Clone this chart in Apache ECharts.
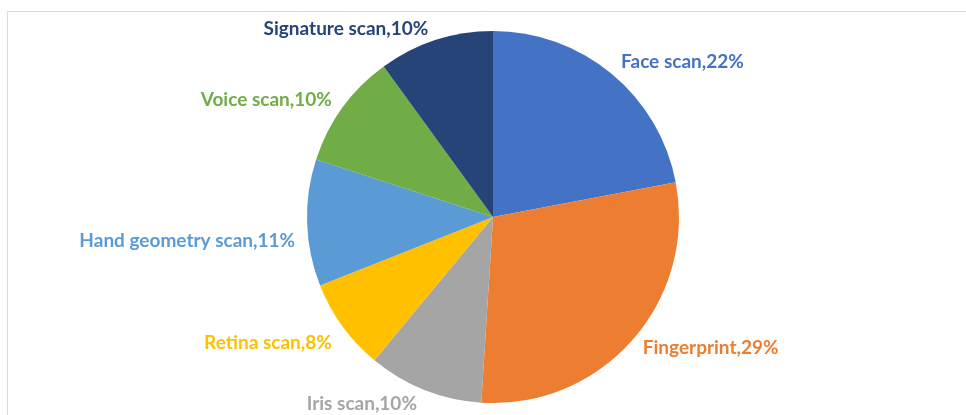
<!DOCTYPE html>
<html>
<head>
<meta charset="utf-8">
<style>
  html, body { margin: 0; padding: 0; background: #fff; }
  #chart { width: 966px; height: 415px; }
</style>
<script src="https://cdn.jsdelivr.net/npm/echarts@6/dist/echarts.min.js"></script>
</head>
<body>
<div id="chart"></div>
<script>
// Share of biometric authentication methods (percent)
const categories = ['Face scan', 'Fingerprint', 'Iris scan', 'Retina scan', 'Hand geometry scan', 'Voice scan', 'Signature scan'];
const shares = [22, 29, 10, 8, 11, 10, 10];
const colors = ['#4472C4', '#ED7D31', '#A5A5A5', '#FFC000', '#5B9BD5', '#70AD47', '#264478'];

const chart = echarts.init(document.getElementById('chart'), null, { renderer: 'canvas' });

// small vertical nudges so labels sit where outside-end labels usually land
const labelNudge = {
  'Face scan': -6,
  'Fingerprint': 3,
  'Iris scan': 7,
  'Retina scan': 12,
  'Hand geometry scan': 18,
  'Voice scan': -4,
  'Signature scan': -5
};

chart.setOption({
  animation: false,
  backgroundColor: '#ffffff',
  graphic: [{
    type: 'rect',
    shape: { x: 7.5, y: 11.5, width: 1000, height: 600 },
    style: { fill: 'none', stroke: '#d9d9d9', lineWidth: 1 },
    silent: true
  }],
  series: [{
    type: 'pie',
    center: [493, 217],
    radius: [0, 186],
    startAngle: 90,
    clockwise: true,
    avoidLabelOverlap: false,
    itemStyle: { borderWidth: 0 },
    label: {
      show: true,
      position: 'outside',
      formatter: p => p.name + ',' + p.value + '%',
      fontFamily: 'Lato, "Open Sans", sans-serif',
      fontWeight: 'bold',
      fontSize: 19
    },
    labelLine: { show: false, length: 7, length2: 0 },
    labelLayout: function (params) {
      const name = categories[params.dataIndex];
      return { dy: labelNudge[name] || 0 };
    },
    emphasis: { disabled: true },
    data: categories.map((name, i) => ({
      name: name,
      value: shares[i],
      itemStyle: { color: colors[i] },
      label: { color: colors[i] }
    }))
  }]
});
</script>
</body>
</html>
